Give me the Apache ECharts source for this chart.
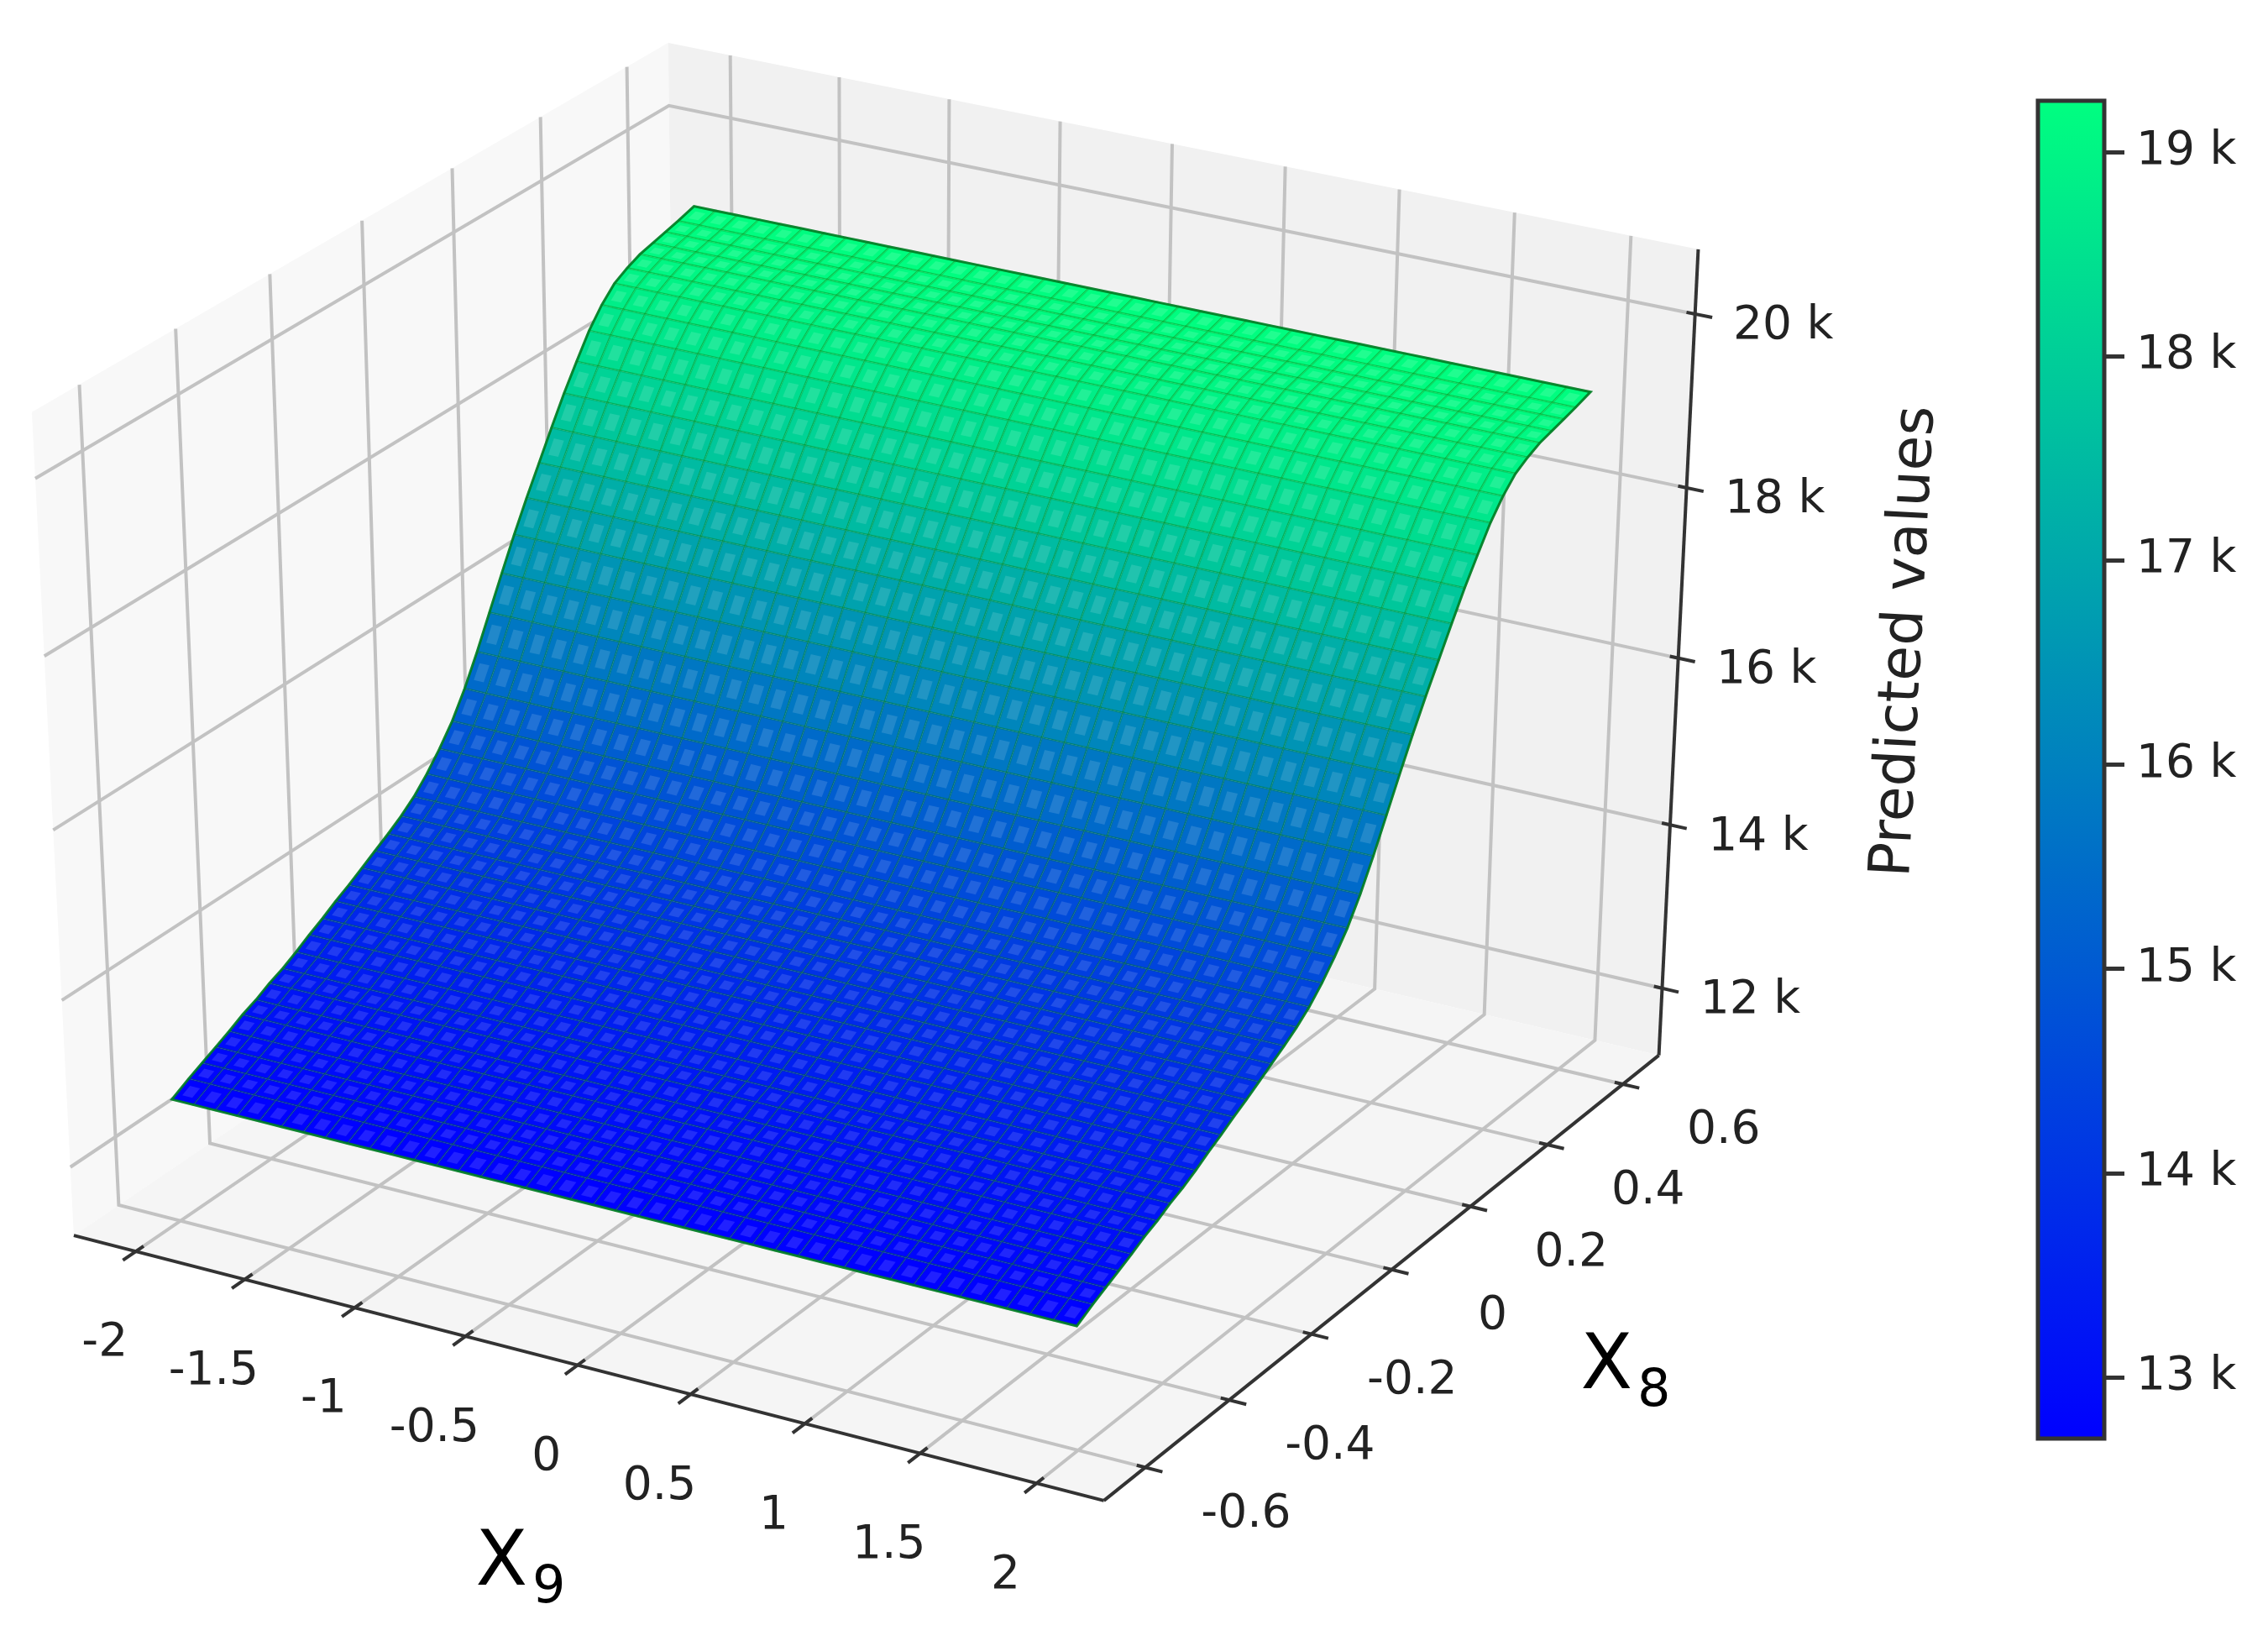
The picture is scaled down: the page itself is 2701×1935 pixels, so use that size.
<!DOCTYPE html>
<html>
<head>
<meta charset="utf-8" />
<title>Predicted values surface</title>
<script src="https://cdn.jsdelivr.net/npm/echarts@6/dist/echarts.min.js"></script>
<style>
  html, body { margin: 0; padding: 0; background: #fff; }
  #myEcharts { width: 2701px; height: 1935px; }
</style>
</head>
<body>
<div id="myEcharts"></div>
<script>
// values
const x9Values = [
  -2, -1.9, -1.8, -1.7, -1.6, -1.5, -1.4, -1.3, -1.2, -1.1, -1, -0.9, -0.8, -0.7,
  -0.6, -0.5, -0.4, -0.3, -0.2, -0.1, 0, 0.1, 0.2, 0.3, 0.4, 0.5, 0.6, 0.7, 0.8,
  0.9, 1, 1.1, 1.2, 1.3, 1.4, 1.5, 1.6, 1.7, 1.8, 1.9, 2,
];
const x8Values = [
  -0.607, -0.57, -0.54, -0.51, -0.48, -0.45, -0.42, -0.39, -0.36, -0.33, -0.3, -0.27,
  -0.24, -0.21, -0.18, -0.15, -0.12, -0.09, -0.06, -0.03, 0, 0.03, 0.06, 0.09, 0.12,
  0.15, 0.18, 0.21, 0.24, 0.27, 0.3, 0.33, 0.36, 0.39, 0.42, 0.45, 0.48, 0.51, 0.54, 0.57, 0.608,
];
// predicted value (k) for each x8, the surface does not change along x9
const predicted = [
  12.67, 12.78, 12.86, 12.94, 13.02, 13.11, 13.18, 13.27, 13.34, 13.43, 13.53, 13.62,
  13.72, 13.81, 13.91, 14.01, 14.11, 14.22, 14.35, 14.52, 14.72, 14.95, 15.24, 15.58, 15.95,
  16.32, 16.68, 17.02, 17.34, 17.66, 17.97, 18.25, 18.52, 18.73, 18.89, 18.98, 19.05, 19.09, 19.13, 19.17, 19.23,
];
const x9Ticks = [-2, -1.5, -1, -0.5, 0, 0.5, 1, 1.5, 2];
const x8Ticks = [-0.6, -0.4, -0.2, 0, 0.2, 0.4, 0.6];
const zTicks = [12, 14, 16, 18, 20];
const colorbarTicks = [13, 14, 15, 16, 17, 18, 19];

const x9Lim = [-2.287, 2.287];
const x8Lim = [-0.697, 0.697];
const zLim = [11.168, 20.734];
const colorMin = 12.7;
const colorMax = 19.25;

// same view as a default mplot3d axes: elev 30, azim -60, dist 10
const DIST = 10;
const U = [0.866025, 0.5, 0];
const V = [-0.25, 0.433013, 0.866025];
const N = [0.433013, -0.75, 0.5];

function project(x, y, z) {
  const p = [
    (x - x9Lim[0]) / (x9Lim[1] - x9Lim[0]) - 0.5,
    (y - x8Lim[0]) / (x8Lim[1] - x8Lim[0]) - 0.5,
    (z - zLim[0]) / (zLim[1] - zLim[0]) - 0.5,
  ];
  const dot = (a) => a[0] * p[0] + a[1] * p[1] + a[2] * p[2];
  const d = DIST - dot(N);
  return [dot(U) / d, dot(V) / d];
}

// winter colormap
function winter(v) {
  const t = Math.min(1, Math.max(0, (v - colorMin) / (colorMax - colorMin)));
  return "rgb(0," + Math.round(255 * t) + "," + Math.round(255 * (1 - 0.5 * t)) + ")";
}

const [x0, x1] = x9Lim;
const [y0, y1] = x8Lim;
const [z0, z1] = zLim;
const GRID_COLOR = "#c2c2c2";
const AXIS_COLOR = "#333333";
const TEXT_COLOR = "#222222";

function line(pts, stroke, lineWidth) {
  return { pts, stroke, lineWidth };
}

// walls and floor
const panes = [
  { pts: [[x0, y0, z0], [x0, y1, z0], [x0, y1, z1], [x0, y0, z1]], fill: "#f8f8f8" },
  { pts: [[x0, y1, z0], [x1, y1, z0], [x1, y1, z1], [x0, y1, z1]], fill: "#f1f1f1" },
  { pts: [[x0, y0, z0], [x1, y0, z0], [x1, y1, z0], [x0, y1, z0]], fill: "#f5f5f5" },
];

const gridLines = [];
x9Ticks.forEach((t) => gridLines.push(line([[t, y0, z0], [t, y1, z0], [t, y1, z1]], GRID_COLOR, 4)));
x8Ticks.forEach((t) => gridLines.push(line([[x1, t, z0], [x0, t, z0], [x0, t, z1]], GRID_COLOR, 4)));
zTicks.forEach((t) => gridLines.push(line([[x0, y0, t], [x0, y1, t], [x1, y1, t]], GRID_COLOR, 4)));

// surface cells, back row first so nearer cells paint over
const cells = [];
for (let j = x8Values.length - 2; j >= 0; j--) {
  const c = (predicted[j] + predicted[j + 1]) / 2;
  for (let i = 0; i < x9Values.length - 1; i++) {
    const a = x9Values[i];
    const b = x9Values[i + 1];
    const s = x8Values[j];
    const e = x8Values[j + 1];
    const pts = [[a, s, predicted[j]], [b, s, predicted[j]], [b, e, predicted[j + 1]], [a, e, predicted[j + 1]]];
    cells.push({ pts, fill: winter(c), stroke: "rgba(0,128,0,0.22)", lineWidth: 2.5 });
    // the lighter spot inside each cell
    const inner = pts.map((p, k) => {
      const o = pts[(k + 2) % 4];
      return [p[0] + (o[0] - p[0]) * 0.27, p[1] + (o[1] - p[1]) * 0.27, p[2] + (o[2] - p[2]) * 0.27];
    });
    cells.push({ pts: inner, fill: "rgba(255,255,255,0.13)" });
  }
}

// surface outline
const lastX8 = x8Values.length - 1;
const outline = [];
x9Values.forEach((v) => outline.push([v, x8Values[0], predicted[0]]));
x8Values.forEach((v, j) => outline.push([x9Values[x9Values.length - 1], v, predicted[j]]));
x9Values.slice().reverse().forEach((v) => outline.push([v, x8Values[lastX8], predicted[lastX8]]));
x8Values.slice().reverse().forEach((v, j) => outline.push([x9Values[0], v, predicted[lastX8 - j]]));
cells.push({ pts: outline, stroke: "rgba(0,125,35,0.9)", lineWidth: 3, closed: true });

const axisLines = [
  line([[x0, y0, z0], [x1, y0, z0]], AXIS_COLOR, 4),
  line([[x1, y0, z0], [x1, y1, z0]], AXIS_COLOR, 4),
  line([[x1, y1, z0], [x1, y1, z1]], AXIS_COLOR, 4),
];
const dy = y1 - y0;
const dx = x1 - x0;
x9Ticks.forEach((t) => axisLines.push(line([[t, y0 - 0.02 * dy, z0], [t, y0 + 0.012 * dy, z0]], AXIS_COLOR, 4)));
x8Ticks.forEach((t) => axisLines.push(line([[x1 - 0.008 * dx, t, z0], [x1 + 0.016 * dx, t, z0]], AXIS_COLOR, 4)));
zTicks.forEach((t) => axisLines.push(line([[x1 - 0.008 * dx, y1, t], [x1 + 0.016 * dx, y1, t]], AXIS_COLOR, 4)));

const tickLabels = [];
x9Ticks.forEach((t) => tickLabels.push({ at: [t, y0, z0], text: String(t), off: [-37, 110] }));
x8Ticks.forEach((t) => tickLabels.push({ at: [x1, t, z0], text: String(t), off: [120, 56] }));
zTicks.forEach((t) => tickLabels.push({ at: [x1, y1, t], text: t + " k", off: [105, 15] }));

function shapeLayer(name, shapes, z) {
  return {
    type: "custom",
    name,
    xAxisIndex: 0,
    yAxisIndex: 0,
    z,
    silent: true,
    animation: false,
    progressive: 0,
    data: shapes.map((s, i) => [i, i]),
    renderItem(params, api) {
      const s = shapes[params.dataIndex];
      const points = s.pts.map((p) => api.coord(project(p[0], p[1], p[2])));
      const style = { fill: s.fill || null, stroke: s.stroke || null, lineWidth: s.lineWidth || 0 };
      if (s.fill || s.closed) {
        return { type: "polygon", shape: { points }, style };
      }
      return { type: "polyline", shape: { points }, style: { fill: null, stroke: s.stroke, lineWidth: s.lineWidth } };
    },
  };
}

const myChart = echarts.init(document.getElementById("myEcharts"), null, { renderer: "canvas" });

myChart.setOption({
  backgroundColor: "#ffffff",
  animation: false,
  grid: [
    { left: 0, right: 0, top: 0, bottom: 0 },
    {
      left: 2427,
      width: 79,
      top: 120,
      height: 1593,
      show: true,
      borderColor: AXIS_COLOR,
      borderWidth: 5,
      backgroundColor: new echarts.graphic.LinearGradient(0, 1, 0, 0, [
        { offset: 0, color: winter(colorMin) },
        { offset: 1, color: winter(colorMax) },
      ]),
    },
  ],
  // axis 0 holds the projected plane, scaled so the box lands where it does in the picture
  xAxis: [
    { gridIndex: 0, type: "value", min: -0.07389, max: 0.11685, show: false },
    { gridIndex: 1, type: "value", min: 0, max: 1, show: false },
  ],
  yAxis: [
    { gridIndex: 0, type: "value", min: -0.09342, max: 0.07946, show: false },
    {
      gridIndex: 1,
      type: "value",
      position: "right",
      min: colorMin,
      max: colorMax,
      axisLine: { show: false, onZero: false },
      splitLine: { show: false },
      axisTick: { show: true, customValues: colorbarTicks, length: 24, lineStyle: { color: AXIS_COLOR, width: 5 } },
      axisLabel: {
        show: true,
        customValues: colorbarTicks,
        margin: 38,
        padding: [8, 0, 0, 0],
        formatter: (v) => v + " k",
        color: TEXT_COLOR,
        fontFamily: "DejaVu Sans",
        fontSize: 55,
      },
    },
  ],
  graphic: [
    {
      type: "text",
      x: 2270,
      y: 764,
      rotation: (87 * Math.PI) / 180,
      style: {
        text: "Predicted values",
        fill: TEXT_COLOR,
        font: '68px "DejaVu Sans"',
        align: "center",
        verticalAlign: "middle",
      },
    },
    {
      type: "text",
      x: 620,
      y: 1864,
      style: {
        text: "{a|X}{b|9}",
        align: "center",
        verticalAlign: "middle",
        rich: {
          a: { fontFamily: "DejaVu Sans", fontSize: 90, fill: "#000" },
          b: { fontFamily: "DejaVu Sans", fontSize: 62, fill: "#000", padding: [56, 0, 0, 6] },
        },
      },
    },
    {
      type: "text",
      x: 1936,
      y: 1630,
      style: {
        text: "{a|X}{b|8}",
        align: "center",
        verticalAlign: "middle",
        rich: {
          a: { fontFamily: "DejaVu Sans", fontSize: 90, fill: "#000" },
          b: { fontFamily: "DejaVu Sans", fontSize: 62, fill: "#000", padding: [56, 0, 0, 6] },
        },
      },
    },
  ],
  series: [
    shapeLayer("panes", panes, 1),
    shapeLayer("grid", gridLines, 2),
    shapeLayer("surface", cells, 3),
    shapeLayer("axes", axisLines, 4),
    {
      type: "custom",
      name: "tick labels",
      xAxisIndex: 0,
      yAxisIndex: 0,
      z: 5,
      silent: true,
      animation: false,
      data: tickLabels.map((s, i) => [i, i]),
      renderItem(params, api) {
        const l = tickLabels[params.dataIndex];
        const p = api.coord(project(l.at[0], l.at[1], l.at[2]));
        return {
          type: "text",
          style: {
            x: p[0] + l.off[0],
            y: p[1] + l.off[1],
            text: l.text,
            fill: TEXT_COLOR,
            font: '55px "DejaVu Sans"',
            align: "center",
            verticalAlign: "middle",
          },
        };
      },
    },
  ],
});
</script>
</body>
</html>
